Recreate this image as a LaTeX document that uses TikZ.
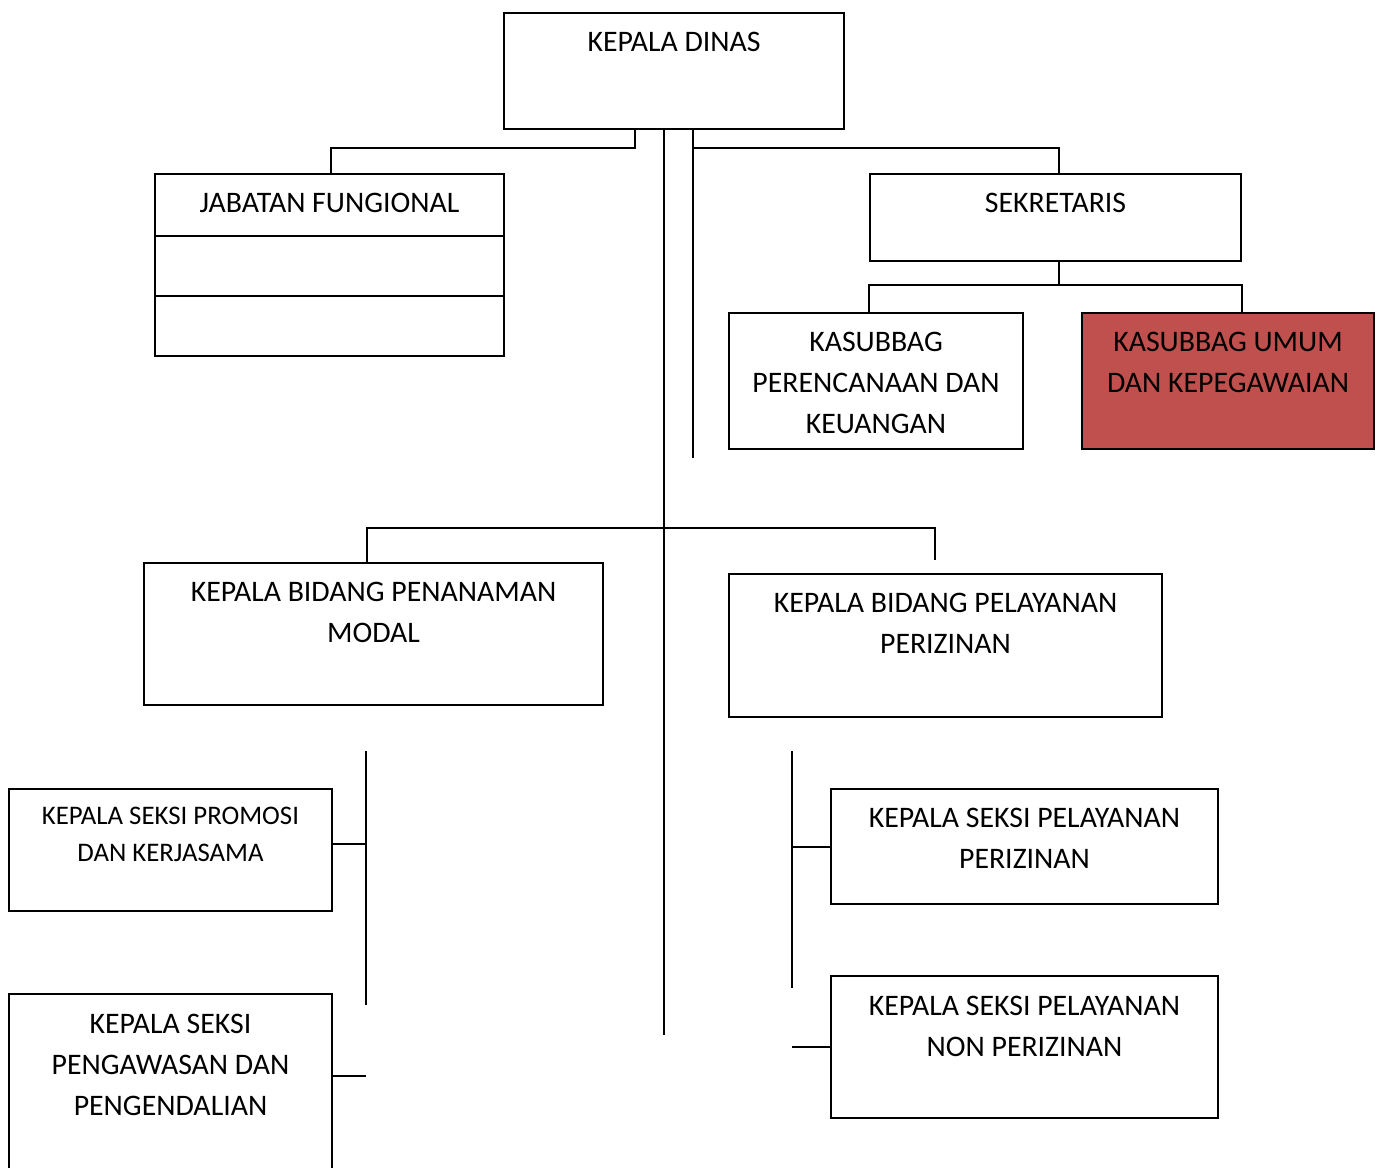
\documentclass[tikz,border=0pt]{standalone}
\usepackage{fontspec}
\setmainfont{Carlito}
\usetikzlibrary{positioning}
\definecolor{umumred}{HTML}{C0504D}
\tikzset{
  unit/.style={draw, line width=1pt, inner sep=0pt, anchor=north west},
  lbl/.style={inner sep=0pt, align=center, font=\fontsize{14.9}{20.5}\selectfont},
  lblsmall/.style={lbl, font=\fontsize{13.4}{18.5}\selectfont},
  wire/.style={line width=1pt}
}

\begin{document}
\begin{tikzpicture}[x=0.5pt,y=-0.5pt]
            \clip (0,0) rectangle (1379,1167);
            % boxes
            \node[unit, minimum width=170pt, minimum height=58pt] (kd) at (503,12) {};
            \node[unit, minimum width=174.5pt, minimum height=91pt] (jf) at (154,173) {};
            \node[unit, minimum width=185.5pt, minimum height=43.5pt] (sek) at (869,173) {};
            \node[unit, minimum width=147pt, minimum height=68pt] (kpk) at (728,312) {};
            \node[unit, fill=umumred, minimum width=146pt, minimum height=68pt] (kum) at (1081,312) {};
            \node[unit, minimum width=229.5pt, minimum height=71pt] (bpm) at (143,562) {};
            \node[unit, minimum width=216.5pt, minimum height=71.5pt] (bpp) at (728,573) {};
            \node[unit, minimum width=161.5pt, minimum height=61pt] (spk) at (8,788) {};
            \node[unit, minimum width=161.5pt, minimum height=100pt] (spg) at (8,993) {};
            \node[unit, minimum width=193.5pt, minimum height=57.5pt] (sp1) at (830,788) {};
            \node[unit, minimum width=193.5pt, minimum height=71pt] (sp2) at (830,975) {};
            \foreach \y in {236,296}
                \draw[wire] (jf.west |- 0,\y) -- (jf.east |- 0,\y);
            % texts
            \node[lbl, below=10pt of kd.north] {KEPALA DINAS};
            \node[lbl, below=10pt of jf.north] {JABATAN FUNGIONAL};
            \node[lbl, below=10pt of sek.north] {SEKRETARIS};
            \node[lbl, below=10pt of kpk.north] {KASUBBAG\\PERENCANAAN DAN\\KEUANGAN};
            \node[lbl, below=10pt of kum.north] {KASUBBAG UMUM\\DAN KEPEGAWAIAN};
            \node[lbl, below=10pt of bpm.north] {KEPALA BIDANG PENANAMAN\\MODAL};
            \node[lbl, below=10pt of bpp.north] {KEPALA BIDANG PELAYANAN\\PERIZINAN};
            \node[lblsmall, below=9.5pt of spk.north] {KEPALA SEKSI PROMOSI\\DAN KERJASAMA};
            \node[lbl, below=10.5pt of spg.north] {KEPALA SEKSI\\PENGAWASAN DAN\\PENGENDALIAN};
            \node[lbl, below=10pt of sp1.north] {KEPALA SEKSI PELAYANAN\\PERIZINAN};
            \node[lbl, below=10.5pt of sp2.north] {KEPALA SEKSI PELAYANAN\\NON PERIZINAN};
            % junctions and free ends
            \coordinate (j1) at (635,148);
            \coordinate (j1l) at (331,148);
            \coordinate (j1r) at (1059,148);
            \coordinate (t1) at (664,1035);
            \coordinate (t2) at (693,458);
            \coordinate (j2) at (1059,285);
            \coordinate (j3l) at (367,528);
            \coordinate (j3r) at (935,560);
            \coordinate (b1t) at (366,751);
            \coordinate (b1b) at (366,1005);
            \coordinate (b1y) at (366,844);
            \coordinate (b1x) at (366,1076);
            \coordinate (b2t) at (792,751);
            \coordinate (b2b) at (792,988);
            % connectors
            \draw[wire] (kd.south -| j1) -- (j1) -- (j1l) -- (j1l |- jf.north);
            \draw[wire] (kd.south -| t1) -- (t1);
            \draw[wire] (kd.south -| t2) -- (t2);
            \draw[wire] (t2 |- j1) -- (j1r) -- (j1r |- sek.north);
            \draw[wire] (j2 |- sek.south) -- (j2);
            \draw[wire] (sek.south west |- kpk.north) -- (sek.south west |- j2) -- (sek.south east |- j2) -- (sek.south east |- kum.north);
            \draw[wire] (j3l |- bpm.north) -- (j3l) -| (j3r);
            \draw[wire] (b1t) -- (b1b);
            \draw[wire] (b1y -| spk.east) -- (b1y);
            \draw[wire] (b1x -| spg.east) -- (b1x);
            \draw[wire] (b2t) -- (b2b);
            \draw[wire] (sp1.west -| b2t) -- (sp1.west);
            \draw[wire] (sp2.west -| b2t) -- (sp2.west);
        \end{tikzpicture}
\end{document}
